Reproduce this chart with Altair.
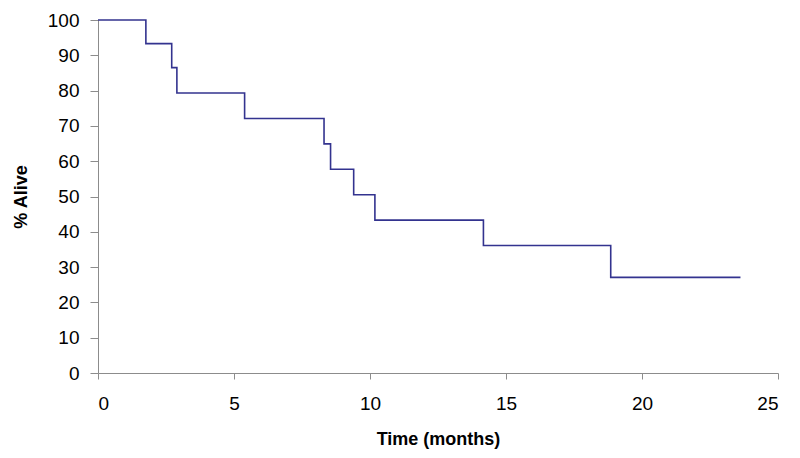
import altair as alt
import pandas as pd

# Kaplan-Meier step points
months = [0, 1.76, 2.71, 2.90, 5.39, 8.31, 8.55, 9.40, 10.18, 14.17, 18.85, 23.62]
alive = [100, 93.3, 86.5, 79.3, 72.1, 64.9, 57.7, 50.5, 43.3, 36.1, 27.1, 27.1]

x_ticks = [0, 5, 10, 15, 20, 25]
y_ticks = [0, 10, 20, 30, 40, 50, 60, 70, 80, 90, 100]

df = pd.DataFrame({"t": months, "s": alive})

FONT = "Liberation Sans"
AXIS_COLOR = "#8c8c8c"

chart = (
    alt.Chart(df)
    .mark_line(interpolate="step-after", color="#33338f", strokeWidth=1.6)
    .encode(
        x=alt.X(
            "t:Q",
            scale=alt.Scale(domain=[0, 25], nice=False, zero=True),
            axis=alt.Axis(
                title="Time (months)",
                values=x_ticks,
                grid=False,
                format="d",
                tickSize=6,
                labelPadding=15,
                titlePadding=17,
            ),
        ),
        y=alt.Y(
            "s:Q",
            scale=alt.Scale(domain=[0, 100], nice=False),
            axis=alt.Axis(
                title="% Alive",
                values=y_ticks,
                grid=False,
                format="d",
                tickSize=8,
                labelPadding=11,
                titlePadding=17,
            ),
        ),
    )
    .properties(
        width=680,
        height=353,
        autosize=alt.AutoSizeParams(type="none"),
        padding={"left": 90, "top": 12, "right": 14, "bottom": 78},
    )
    .configure_view(stroke=None)
    .configure_axis(
        labelFont=FONT,
        titleFont=FONT,
        labelFontSize=19,
        titleFontSize=18,
        titleFontWeight="bold",
        labelColor="#000000",
        titleColor="#000000",
        domainColor=AXIS_COLOR,
        tickColor=AXIS_COLOR,
        domainWidth=1,
        tickWidth=1,
    )
)

chart.save("out.html", embed_options={"renderer": "svg", "actions": False})
